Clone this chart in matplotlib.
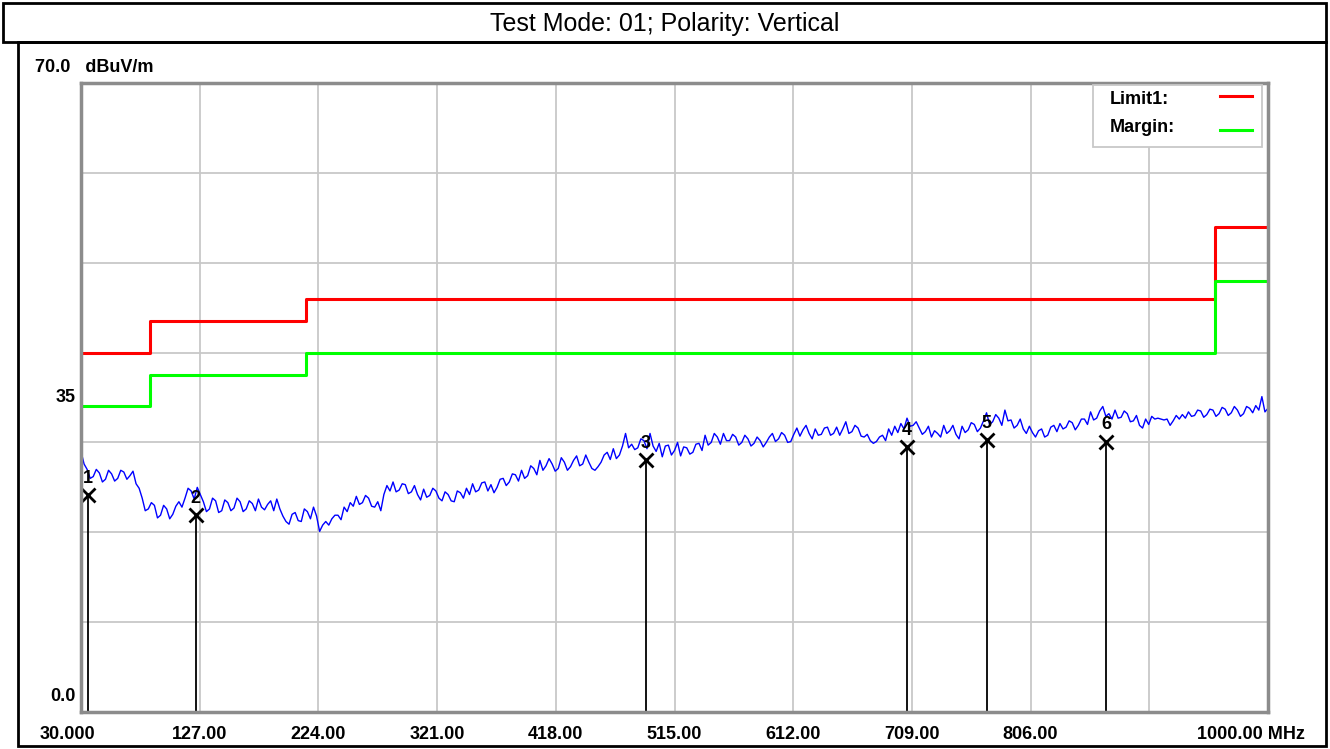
import numpy as np
import matplotlib
matplotlib.use('Agg')
import matplotlib.pyplot as plt
from matplotlib.patches import Rectangle

# limit / margin steps (MHz, dBuV/m), step points as drawn on the chart
limit_f = [30, 86, 86, 214, 214, 957, 957, 1000]
limit_v = [40, 40, 43.5, 43.5, 46, 46, 54, 54]
margin_v = [34, 34, 37.5, 37.5, 40, 40, 48, 48]

# measured trace, read every 2.5 MHz from 30 to 1000 MHz
level = [29.0, 27.6, 27.0, 26.0, 26.2, 27.0, 26.6, 25.6, 25.9, 26.9, 26.5, 25.7, 26.0, 26.9, 26.7, 25.9, 26.3, 26.8, 25.4, 24.9,
         23.8, 22.4, 22.6, 23.3, 23.0, 21.6, 21.9, 23.0, 22.6, 21.5, 22.0, 22.9, 23.4, 22.8, 23.8, 24.9, 24.6, 23.7, 25.0, 24.2,
         23.4, 22.3, 22.6, 23.8, 23.5, 22.2, 22.4, 23.6, 23.3, 22.4, 22.7, 23.8, 23.4, 22.3, 22.6, 23.5, 23.2, 22.4, 23.7, 22.8,
         22.5, 23.1, 23.5, 22.4, 23.7, 22.6, 21.8, 21.2, 20.9, 22.0, 22.2, 21.3, 21.2, 22.6, 22.3, 21.5, 22.8, 21.8, 20.1, 20.8,
         21.2, 20.8, 21.5, 21.9, 21.9, 21.4, 22.8, 22.3, 23.3, 22.9, 24.0, 23.1, 23.3, 24.1, 23.8, 22.9, 22.8, 23.4, 22.4, 24.2,
         25.2, 24.6, 25.6, 24.5, 24.7, 25.4, 25.3, 24.3, 24.5, 25.2, 24.2, 23.6, 24.8, 23.9, 24.1, 24.9, 24.6, 23.8, 23.5, 24.5,
         24.2, 23.5, 23.4, 24.6, 24.4, 23.8, 24.9, 24.2, 25.4, 24.5, 24.7, 25.5, 25.6, 24.6, 25.3, 24.4, 25.0, 25.9, 26.0, 25.2,
         25.6, 26.5, 26.4, 25.7, 26.9, 26.0, 26.3, 27.4, 27.1, 26.4, 28.0, 26.9, 27.4, 28.2, 27.6, 26.8, 27.1, 28.3, 27.8, 26.9,
         27.3, 28.0, 28.5, 27.4, 27.6, 28.6, 27.8, 27.1, 26.9, 27.3, 27.8, 28.6, 28.9, 28.1, 29.3, 28.2, 28.6, 29.6, 31.0, 29.4,
         29.8, 29.2, 29.4, 30.4, 30.2, 29.3, 31.0, 29.6, 29.0, 29.9, 28.4, 29.6, 29.7, 28.6, 29.1, 30.0, 28.5, 29.5, 29.4, 28.7,
         28.9, 29.8, 29.9, 29.1, 30.8, 29.7, 30.0, 31.0, 30.6, 29.8, 31.0, 30.2, 30.2, 30.9, 30.6, 29.7, 30.0, 30.8, 30.4, 29.6,
         29.9, 30.6, 30.2, 29.5, 30.0, 30.6, 31.0, 30.1, 30.4, 31.1, 30.8, 30.0, 30.1, 30.9, 31.6, 30.7, 31.4, 31.9, 31.0, 30.4,
         31.5, 30.8, 30.9, 31.6, 31.7, 30.8, 31.0, 31.7, 30.8, 31.5, 32.3, 31.0, 31.2, 31.9, 31.6, 30.7, 30.6, 30.9, 30.2, 29.9,
         30.1, 30.6, 30.8, 30.2, 31.5, 30.8, 31.8, 31.1, 32.1, 31.5, 32.7, 31.8, 31.9, 32.3, 31.6, 30.9, 31.2, 31.8, 30.6, 31.3,
         31.0, 30.6, 31.9, 31.0, 31.3, 31.9, 30.9, 30.4, 31.8, 31.1, 31.4, 32.2, 32.0, 31.2, 31.6, 32.4, 33.3, 32.0, 32.3, 33.1,
         32.7, 31.9, 33.6, 32.4, 32.5, 31.6, 31.9, 32.6, 31.5, 31.0, 31.8, 31.1, 30.6, 31.3, 31.5, 30.6, 30.8, 31.7, 31.9, 31.2,
         32.1, 31.5, 31.7, 32.4, 32.2, 31.4, 31.9, 32.6, 32.6, 32.0, 33.4, 32.5, 32.7, 33.5, 34.0, 32.9, 33.2, 32.6, 33.6, 32.7,
         32.8, 33.5, 33.2, 32.3, 32.4, 33.0, 31.9, 31.6, 32.6, 32.0, 32.9, 32.6, 32.7, 32.6, 32.5, 32.6, 31.9, 32.4, 33.0, 32.6,
         33.1, 32.7, 33.4, 32.9, 33.0, 33.6, 33.5, 32.8, 33.1, 33.7, 33.6, 32.9, 33.2, 33.9, 33.7, 33.0, 33.3, 34.0, 33.6, 32.9,
         33.2, 34.0, 33.8, 33.3, 34.1, 33.6, 35.1, 33.4, 33.8]
freq = np.linspace(30, 1000, len(level))

# peak markers
mk_no = ['1', '2', '3', '4', '5', '6']
mk_f = [36.0, 123.7, 491.7, 704.8, 770.1, 867.6]
mk_v = [24.1, 21.9, 28.0, 29.5, 30.3, 30.1]

xticks = [30, 127, 224, 321, 418, 515, 612, 709, 806, 903, 1000]
xlabels = ['30.000', '127.00', '224.00', '321.00', '418.00', '515.00',
           '612.00', '709.00', '806.00', '', '1000.00 MHz']

W, H = 1330, 749
fig = plt.figure(figsize=(13.3, 7.49), dpi=100)

# outer boxes
fig.patches.append(Rectangle((3 / W, 1 - 42 / H), 1323 / W, 39 / H, transform=fig.transFigure,
                             fill=False, ec='black', lw=2, zorder=0))
fig.patches.append(Rectangle((18 / W, 1 - 746 / H), 1308 / W, 704 / H, transform=fig.transFigure,
                             fill=False, ec='black', lw=2, zorder=0))
fig.text(0.5, 1 - 24 / H, 'Test Mode: 01; Polarity: Vertical', ha='center', va='center',
         fontsize=18, family='Liberation Sans')

ax = fig.add_axes([81 / W, 1 - 712 / H, 1187 / W, 629 / H])
ax.set_xlim(30, 1000)
ax.set_ylim(0, 70)
ax.set_xticks(xticks)
ax.set_yticks(np.arange(0, 71, 10))
ax.set_xticklabels([])
ax.set_yticklabels([])
ax.tick_params(length=0)
ax.grid(True, color='#c8c8c8', lw=1.3)
ax.set_axisbelow(True)
for s in ax.spines.values():
    s.set_color('#8c8c8c')
    s.set_linewidth(2.5)

ax.plot(limit_f, limit_v, color='#ff0000', lw=2.2)
ax.plot(limit_f, margin_v, color='#00ff00', lw=2.2)
ax.plot(freq, level, color='#0000ff', lw=1.0)

ax.vlines(mk_f, 0, mk_v, color='black', lw=1.3)
ax.plot(mk_f, mk_v, 'x', color='black', ms=10, mew=2)
for n, f, v in zip(mk_no, mk_f, mk_v):
    ax.annotate(n, (f, v), xytext=(0, 12), textcoords='offset points', ha='center', va='center',
                fontsize=13, fontweight='bold', family='Liberation Sans')

# axis labels
lab = dict(fontsize=13, fontweight='bold', family='Liberation Sans')
for f, t in zip(xticks, xlabels):
    if not t:
        continue
    dx = 0
    if f == 30:
        dx = -10
    if f == 1000:
        dx = -12
    ax.annotate(t, (f, 0), xytext=(dx, -16), textcoords='offset points', ha='center', va='center', **lab)
ax.annotate('0.0', (30, 0), xytext=(-4, 11), textcoords='offset points', ha='right', va='center', **lab)
ax.annotate('35', (30, 35), xytext=(-4, 0), textcoords='offset points', ha='right', va='center', **lab)
ax.annotate('70.0   dBuV/m', (30, 70), xytext=(-33, 11), textcoords='offset points', ha='left', va='center', **lab)

# legend box
ax.add_patch(Rectangle((0.8526, 0.8983), 0.1423, 0.0985, transform=ax.transAxes,
                       fc='white', ec='#c8c8c8', lw=1.3, zorder=5))
ax.text(0.8669, 0.9730, 'Limit1:', transform=ax.transAxes, va='center', zorder=6, **lab)
ax.text(0.8669, 0.9285, 'Margin:', transform=ax.transAxes, va='center', zorder=6, **lab)
ax.plot([0.9596, 0.9865], [0.9793, 0.9793], color='#ff0000', lw=2.2, transform=ax.transAxes, zorder=6)
ax.plot([0.9596, 0.9865], [0.9253, 0.9253], color='#00ff00', lw=2.2, transform=ax.transAxes, zorder=6)

fig.savefig('out.png', dpi=100)
